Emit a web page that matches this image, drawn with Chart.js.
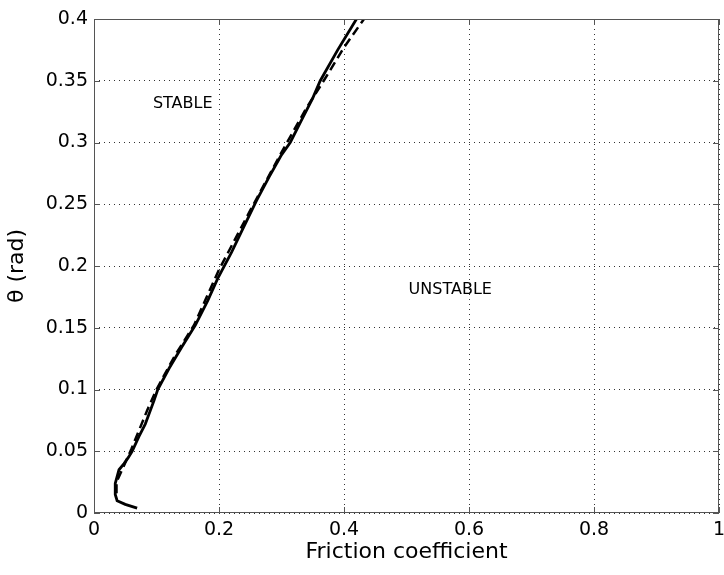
<!DOCTYPE html>
<html>
<head>
<meta charset="utf-8">
<script src="https://cdn.jsdelivr.net/npm/chart.js@4.4.1/dist/chart.umd.min.js"></script>
<style>
  html, body { margin: 0; padding: 0; background: #fff; }
  #wrap { width: 724px; height: 575px; }
</style>
</head>
<body>
<div id="wrap"><canvas id="chart" width="724" height="575"></canvas></div>
<script>
// friction coefficient (x) vs theta in rad (y)
const solidX = [0.069, 0.050, 0.037, 0.034, 0.034, 0.040, 0.048, 0.055, 0.061, 0.072, 0.082, 0.096, 0.102, 0.120, 0.140, 0.162, 0.182, 0.198, 0.220, 0.240, 0.260, 0.280, 0.300, 0.314, 0.330, 0.350, 0.362, 0.390, 0.420];
const solidY = [0.004, 0.007, 0.010, 0.015, 0.024, 0.035, 0.040, 0.045, 0.050, 0.062, 0.072, 0.091, 0.100, 0.117, 0.134, 0.152, 0.172, 0.190, 0.211, 0.232, 0.253, 0.272, 0.290, 0.300, 0.316, 0.336, 0.350, 0.375, 0.400];

const dashedX = [0.036, 0.036, 0.045, 0.060, 0.085, 0.100, 0.130, 0.160, 0.200, 0.250, 0.300, 0.340, 0.370, 0.400, 0.432];
const dashedY = [0.016, 0.025, 0.035, 0.052, 0.083, 0.100, 0.128, 0.152, 0.197, 0.245, 0.292, 0.328, 0.352, 0.377, 0.400];

const xTicks = [0, 0.2, 0.4, 0.6, 0.8, 1];
const yTicks = [0, 0.05, 0.1, 0.15, 0.2, 0.25, 0.3, 0.35, 0.4];

const regionLabels = ['STABLE', 'UNSTABLE'];
const regionX = [0.142, 0.57];
const regionY = [0.331, 0.181];

const toPoints = (xs, ys) => xs.map((x, i) => ({ x: x, y: ys[i] }));

const fontFamily = '"DejaVu Sans", Verdana, sans-serif';

// matlab-ish inward ticks, box on all sides, and the region labels
const extras = {
    id: 'extras',
    afterDraw(chart) {
        const ctx = chart.ctx;
        const xs = chart.scales.x;
        const ys = chart.scales.y;
        const a = chart.chartArea;
        ctx.save();
        ctx.strokeStyle = '#555';
        ctx.lineWidth = 1;
        ctx.beginPath();
        xTicks.forEach(v => {
            const px = Math.round(xs.getPixelForValue(v)) + 0.5;
            ctx.moveTo(px, a.bottom); ctx.lineTo(px, a.bottom - 6);
            ctx.moveTo(px, a.top); ctx.lineTo(px, a.top + 6);
        });
        yTicks.forEach(v => {
            const py = Math.round(ys.getPixelForValue(v)) + 0.5;
            ctx.moveTo(a.left, py); ctx.lineTo(a.left + 6, py);
            ctx.moveTo(a.right, py); ctx.lineTo(a.right - 6, py);
        });
        ctx.stroke();
        ctx.strokeRect(Math.round(a.left) + 0.5, Math.round(a.top) + 0.5,
            Math.round(a.right - a.left) - 1, Math.round(a.bottom - a.top) - 1);

        ctx.fillStyle = '#000';
        ctx.font = '16px ' + fontFamily;
        ctx.textAlign = 'center';
        ctx.textBaseline = 'middle';
        regionLabels.forEach((t, i) => {
            ctx.fillText(t, xs.getPixelForValue(regionX[i]), ys.getPixelForValue(regionY[i]));
        });
        ctx.restore();
    }
};

new Chart(document.getElementById('chart'), {
    type: 'scatter',
    data: {
        datasets: [{
            data: toPoints(solidX, solidY),
            showLine: true,
            borderColor: '#000',
            borderWidth: 2.8,
            pointRadius: 0,
            tension: 0
        }, {
            data: toPoints(dashedX, dashedY),
            showLine: true,
            borderColor: '#000',
            borderWidth: 2.5,
            borderDash: [9, 5],
            pointRadius: 0,
            tension: 0
        }]
    },
    options: {
        responsive: false,
        animation: false,
        layout: { padding: { top: 19, right: 5, left: 0, bottom: 0 } },
        plugins: {
            legend: { display: false },
            tooltip: { enabled: false }
        },
        scales: {
            x: {
                type: 'linear',
                min: 0,
                max: 1,
                afterBuildTicks: s => { s.ticks = xTicks.map(v => ({ value: v })); },
                afterFit: s => {
                    s.height = 575 - 513;
                    s.paddingLeft = 0;
                    s.paddingRight = 0;
                },
                ticks: {
                    color: '#000',
                    font: { size: 19, family: fontFamily },
                    padding: 6,
                    maxRotation: 0,
                    callback: v => String(parseFloat(v.toFixed(2)))
                },
                grid: {
                    color: '#333',
                    lineWidth: 1,
                    drawTicks: false
                },
                border: { display: false, dash: [1, 4] },
                title: {
                    display: true,
                    text: 'Friction coefficient',
                    color: '#000',
                    font: { size: 22, family: fontFamily },
                    padding: { top: 0, bottom: 10 }
                }
            },
            y: {
                type: 'linear',
                min: 0,
                max: 0.4,
                afterBuildTicks: s => { s.ticks = yTicks.map(v => ({ value: v })); },
                afterFit: s => {
                    s.width = 94;
                    s.paddingTop = 0;
                    s.paddingBottom = 0;
                },
                ticks: {
                    color: '#000',
                    font: { size: 19, family: fontFamily },
                    padding: 6,
                    callback: v => String(parseFloat(v.toFixed(2)))
                },
                grid: {
                    color: '#333',
                    lineWidth: 1,
                    drawTicks: false
                },
                border: { display: false, dash: [1, 4] },
                title: {
                    display: true,
                    text: 'θ (rad)',
                    color: '#000',
                    font: { size: 22, family: fontFamily },
                    padding: { top: 4, bottom: 0 }
                }
            }
        }
    },
    plugins: [extras]
});
</script>
</body>
</html>
